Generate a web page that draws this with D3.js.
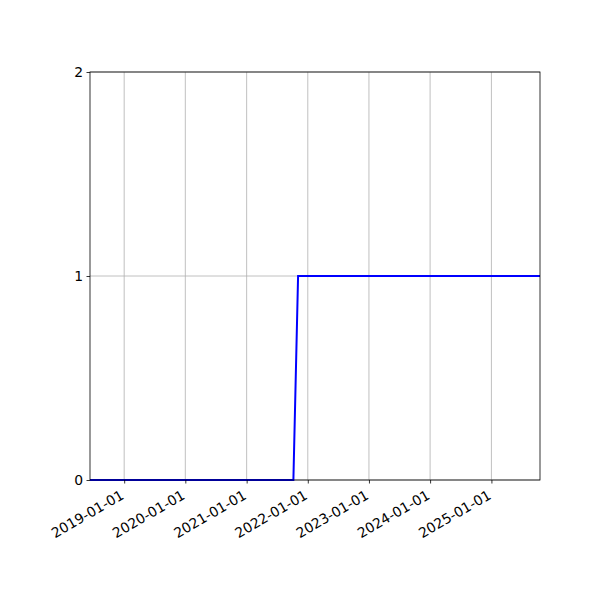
<!DOCTYPE html>
<html lang="en">
<head>
<meta charset="UTF-8">
<script src="https://d3js.org/d3.v7.min.js"></script>
<style>
  body { margin: 0; background: white; }
  svg { display: block; }
  .tick text { font-family: 'DejaVu Sans', sans-serif; font-size: 13.9px; fill: #000; }
</style>
</head>
<body>
<svg id="chart" width="600" height="600"></svg>
<script>
// series
const dates = ["2018-06-11", "2021-10-07", "2021-11-04", "2025-10-18"];
const values = [0, 0, 1, 1];
const xTickLabels = ["2019-01-01", "2020-01-01", "2021-01-01", "2022-01-01", "2023-01-01", "2024-01-01", "2025-01-01"];
const yTickValues = [0, 1, 2];

const parse = d3.timeParse("%Y-%m-%d");
const data = dates.map((d, i) => ({ date: parse(d), value: values[i] }));

const width = 600, height = 600;
const margin = { top: 72, right: 60, bottom: 120, left: 90 };

const svg = d3.select("#chart");

const x = d3.scaleTime()
    .domain(d3.extent(data, d => d.date))
    .range([margin.left, width - margin.right]);

const y = d3.scaleLinear()
    .domain([0, 2])
    .range([height - margin.bottom, margin.top]);

// grid
svg.append("g")
    .selectAll("line")
    .data(xTickLabels.map(parse))
    .enter().append("line")
    .attr("x1", d => x(d)).attr("x2", d => x(d))
    .attr("y1", margin.top).attr("y2", height - margin.bottom)
    .attr("stroke", "#b0b0b0").attr("stroke-width", 0.8);

svg.append("g")
    .selectAll("line")
    .data(yTickValues)
    .enter().append("line")
    .attr("x1", margin.left).attr("x2", width - margin.right)
    .attr("y1", d => y(d)).attr("y2", d => y(d))
    .attr("stroke", "#b0b0b0").attr("stroke-width", 0.8);

// line
svg.append("path")
    .datum(data)
    .attr("fill", "none")
    .attr("stroke", "#0000ff")
    .attr("stroke-width", 2)
    .attr("d", d3.line().x(d => x(d.date)).y(d => y(d.value)));

// axes
const xAxis = svg.append("g")
    .attr("transform", `translate(0,${height - margin.bottom})`)
    .call(d3.axisBottom(x)
        .tickValues(xTickLabels.map(parse))
        .tickFormat(d3.timeFormat("%Y-%m-%d"))
        .tickSizeInner(3.5).tickSizeOuter(0).tickPadding(3.5));
xAxis.select(".domain").remove();
xAxis.selectAll(".tick line").attr("stroke", "#000").attr("stroke-width", 0.8);
xAxis.selectAll(".tick text")
    .attr("text-anchor", "end")
    .attr("dy", null)
    .attr("y", 0)
    .attr("dominant-baseline", "hanging")
    .attr("transform", "translate(-5,9) rotate(-30)");

const yAxis = svg.append("g")
    .attr("transform", `translate(${margin.left},0)`)
    .call(d3.axisLeft(y)
        .tickValues(yTickValues)
        .tickFormat(d3.format("d"))
        .tickSizeInner(3.5).tickSizeOuter(0).tickPadding(3.5));
yAxis.select(".domain").remove();
yAxis.selectAll(".tick line").attr("stroke", "#000").attr("stroke-width", 0.8);

// frame
svg.append("rect")
    .attr("x", margin.left).attr("y", margin.top)
    .attr("width", width - margin.left - margin.right)
    .attr("height", height - margin.top - margin.bottom)
    .attr("fill", "none").attr("stroke", "#000").attr("stroke-width", 0.8);
</script>
</body>
</html>
